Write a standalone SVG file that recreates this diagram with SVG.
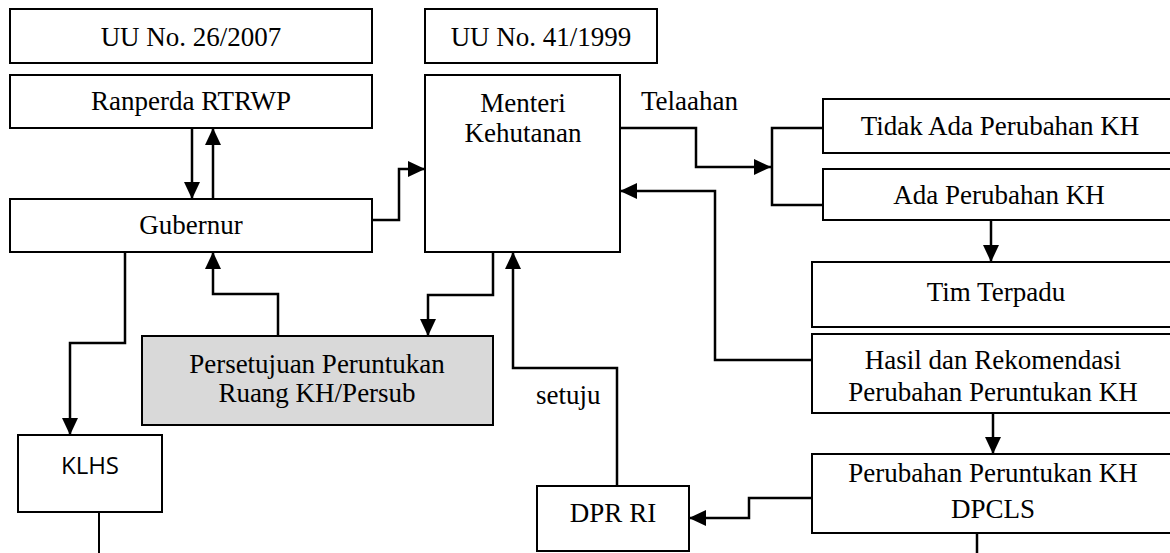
<svg xmlns="http://www.w3.org/2000/svg" width="1170" height="553" viewBox="0 0 1170 553">
<style>
.box{fill:#ffffff;stroke:#000;stroke-width:2}
.gray{fill:#d9d9d9;stroke:#000;stroke-width:2}
.t{font-family:"Liberation Serif","Times New Roman",serif;font-size:27px;fill:#000;text-anchor:middle}
.tl{font-family:"Liberation Serif","Times New Roman",serif;font-size:27px;fill:#000}
.s{font-family:"Open Sans","Noto Sans",sans-serif;font-size:24px;fill:#000;text-anchor:middle}
.c{fill:none;stroke:#000;stroke-width:2.5}
</style>
<defs>
<marker id="ah" markerUnits="userSpaceOnUse" markerWidth="17" markerHeight="16" refX="17" refY="8" orient="auto">
<path d="M0,0 L17,8 L0,16 z" fill="#000"/>
</marker>
</defs>
<rect width="1170" height="553" fill="#fff"/>
<g id="connectors">
<path class="c" d="M192,128 V199" marker-end="url(#ah)"/>
<path class="c" d="M213,199 V128" marker-end="url(#ah)"/>
<path class="c" d="M372,220 H399 V169 H425" marker-end="url(#ah)"/>
<path class="c" d="M125,252 V343 H70 V435" marker-end="url(#ah)"/>
<path class="c" d="M278,336 V294 H213 V252" marker-end="url(#ah)"/>
<path class="c" d="M493,252 V295 H428 V336" marker-end="url(#ah)"/>
<path class="c" d="M617,486 V368 H513 V252" marker-end="url(#ah)"/>
<path class="c" d="M620,128 H696 V167 H771" marker-end="url(#ah)"/>
<path class="c" d="M823,128 H772 V205 H823"/>
<path class="c" d="M991,220 V262" marker-end="url(#ah)"/>
<path class="c" d="M812,360 H715 V191 H620" marker-end="url(#ah)"/>
<path class="c" d="M993,413 V454" marker-end="url(#ah)"/>
<path class="c" d="M812,498 H749 V518 H689" marker-end="url(#ah)"/>
<path class="c" d="M977,533 V553"/>
<path class="c" d="M99,512 V553" style="stroke-width:2"/>
<text class="tl" x="641" y="110">Telaahan</text>
<text class="tl" x="536" y="404">setuju</text>
</g>
<g id="uu26">
<rect class="box" x="10" y="9" width="362" height="54"/>
<text class="t" x="191" y="46">UU No. 26/2007</text>
</g>
<g id="uu41">
<rect class="box" x="425" y="9" width="232" height="54"/>
<text class="t" x="541" y="46">UU No. 41/1999</text>
</g>
<g id="ranperda">
<rect class="box" x="10" y="75" width="362" height="53"/>
<text class="t" x="191" y="110">Ranperda RTRWP</text>
</g>
<g id="gubernur">
<rect class="box" x="10" y="199" width="362" height="53"/>
<text class="t" x="191" y="234">Gubernur</text>
</g>
<g id="menteri">
<rect class="box" x="425" y="75" width="195" height="177"/>
<text class="t" x="523" y="112">Menteri</text>
<text class="t" x="523" y="142">Kehutanan</text>
</g>
<g id="tidak-ada">
<rect class="box" x="823" y="99" width="360" height="54"/>
<text class="t" x="1000" y="135">Tidak Ada Perubahan KH</text>
</g>
<g id="ada">
<rect class="box" x="823" y="169" width="360" height="51"/>
<text class="t" x="999" y="204">Ada Perubahan KH</text>
</g>
<g id="tim">
<rect class="box" x="812" y="262" width="370" height="65"/>
<text class="t" x="996" y="301">Tim Terpadu</text>
</g>
<g id="hasil">
<rect class="box" x="812" y="334" width="370" height="79"/>
<text class="t" x="993" y="369">Hasil dan Rekomendasi</text>
<text class="t" x="993" y="401">Perubahan Peruntukan KH</text>
</g>
<g id="persetujuan">
<rect class="gray" x="142" y="336" width="351" height="89"/>
<text class="t" x="317" y="373">Persetujuan Peruntukan</text>
<text class="t" x="317" y="402">Ruang KH/Persub</text>
</g>
<g id="klhs">
<rect class="box" x="18" y="435" width="144" height="77"/>
<text class="s" x="90" y="474">KLHS</text>
</g>
<g id="dpcls">
<rect class="box" x="812" y="454" width="370" height="79"/>
<text class="t" x="993" y="482">Perubahan Peruntukan KH</text>
<text class="t" x="993" y="518">DPCLS</text>
</g>
<g id="dpr">
<rect class="box" x="537" y="486" width="152" height="65"/>
<text class="t" x="613" y="522">DPR RI</text>
</g>
</svg>
